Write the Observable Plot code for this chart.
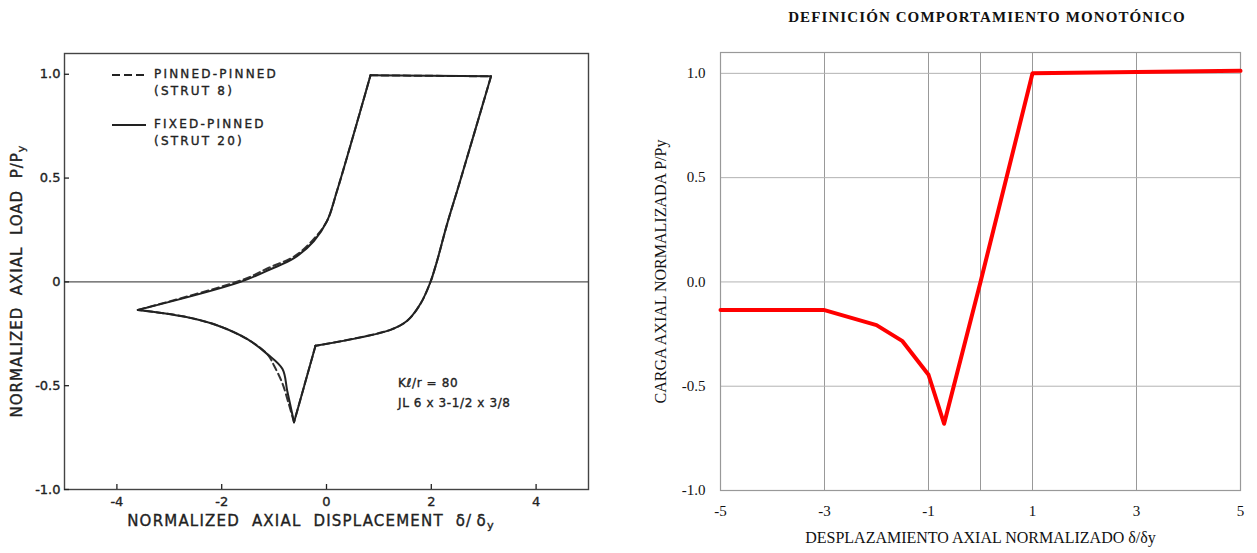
<!DOCTYPE html>
<html>
<head>
<meta charset="utf-8">
<script src="https://cdn.jsdelivr.net/npm/d3@7"></script>
<script src="https://cdn.jsdelivr.net/npm/@observablehq/plot@0.6"></script>
<style>
  body { margin: 0; background: #fff; }
  #page { position: relative; width: 1257px; height: 553px; overflow: hidden; background: #fff; }
  .abs { position: absolute; }
  .letter { font-family: "DejaVu Sans", sans-serif; color: #222; letter-spacing: 1.2px; white-space: nowrap; -webkit-text-stroke: 0.35px #222; }
  .serif { font-family: "Liberation Serif", serif; color: #111; white-space: nowrap; }
  sub { font-size: 75%; vertical-align: -0.25em; }
</style>
</head>
<body>
<div id="page">
  <div id="left" class="abs" style="left:0;top:0"></div>
  <div id="right" class="abs" style="left:620px;top:35px"></div>

  <!-- left panel lettering -->
  <div class="abs letter" style="left:18px;top:281px;font-size:15px;letter-spacing:1px;transform:translate(-50%,-50%) rotate(-90deg);">NORMALIZED&nbsp; AXIAL&nbsp; LOAD&nbsp; P/P<sub>y</sub></div>
  <div class="abs letter" style="left:311px;top:522px;font-size:15px;transform:translate(-50%,-50%);">NORMALIZED&nbsp; AXIAL&nbsp; DISPLACEMENT&nbsp; δ/&thinsp;δ<sub>y</sub></div>

  <div class="abs letter" style="left:112px;top:66px;font-size:12px;line-height:17px;letter-spacing:2.2px;">
    <svg width="34" height="8" style="vertical-align:middle;margin-right:8px"><line x1="0" y1="4" x2="34" y2="4" stroke="#222" stroke-width="2" stroke-dasharray="8,4"/></svg>PINNED-PINNED<br>
    <span style="margin-left:42px">(STRUT 8)</span>
  </div>
  <div class="abs letter" style="left:112px;top:116px;font-size:12px;line-height:17px;letter-spacing:2.2px;">
    <svg width="34" height="8" style="vertical-align:middle;margin-right:8px"><line x1="0" y1="4" x2="34" y2="4" stroke="#222" stroke-width="2"/></svg>FIXED-PINNED<br>
    <span style="margin-left:42px">(STRUT 20)</span>
  </div>
  <div class="abs letter" style="left:398px;top:373px;font-size:12px;line-height:20px;letter-spacing:0.6px;">
    Kℓ/r = 80<br>JL 6 x 3-1/2 x 3/8
  </div>

  <!-- right panel title -->
  <div class="abs serif" style="left:987px;top:9px;transform:translateX(-50%);font-size:15px;font-weight:bold;letter-spacing:1.1px;">DEFINICIÓN COMPORTAMIENTO MONOTÓNICO</div>
</div>
<script>
// ---------- Left panel: cyclic test (reference figure) ----------
// Fixed-pinned (strut 20), traced piece by piece around the loop
const fixedUpperX  = [-3.6, -1.64, -1.07, -0.62, -0.24, 0.01, 0.20, 0.84];
const fixedUpperY  = [-0.135, 0.0, 0.061, 0.114, 0.197, 0.293, 0.4375, 0.995];
const loopTopX     = [0.84, 3.14];
const loopTopY     = [0.995, 0.99];
const loopRightX   = [3.14, 2.55, 2.30, 2.11, 1.98, 1.79, 1.54, 1.22, -0.21];
const loopRightY   = [0.99, 0.486, 0.277, 0.101, -0.003, -0.107, -0.1875, -0.231, -0.308];
const loopDownX    = [-0.21, -0.62];
const loopDownY    = [-0.308, -0.676];
const fixedReturnX = [-0.62, -0.75, -0.84, -1.13, -1.51, -2.08, -2.72, -3.6];
const fixedReturnY = [-0.676, -0.524, -0.42, -0.348, -0.276, -0.21, -0.167, -0.135];
// Pinned-pinned (strut 8): differs only on the upper and return branches
const pinnedUpperX  = [-3.6, -1.6, -1.1, -0.6, -0.25, 0.01, 0.20, 0.84];
const pinnedUpperY  = [-0.135, 0.01, 0.068, 0.125, 0.205, 0.293, 0.4375, 0.995];
const pinnedReturnX = [-0.62, -0.72, -0.84, -1.0, -1.13, -1.51, -2.08, -2.72, -3.6];
const pinnedReturnY = [-0.676, -0.588, -0.49, -0.404, -0.348, -0.276, -0.21, -0.167, -0.135];

const leftXTicks = [-4, -2, 0, 2, 4];
const leftYTicks = [-1, -0.5, 0, 0.5, 1];

// ---------- Right panel: monotonic definition ----------
const monoX = [-5, -3, -2, -1.5, -1, -0.7, 0, 1, 5];
const monoY = [-0.135, -0.135, -0.207, -0.284, -0.445, -0.68, 0, 1.0, 1.012];
const rightXTicks = [-5, -3, -1, 1, 3, 5];
const rightXGrid = [-5, -3, -1, 0, 1, 3, 5];
const rightYTicks = [-1, -0.5, 0, 0.5, 1];
const rightXLabel = "DESPLAZAMIENTO AXIAL NORMALIZADO δ/δy";
const rightYLabel = "CARGA AXIAL NORMALIZADA P/Py";

function pieces(list) {
  const rows = [];
  list.forEach(([xs, ys], p) => xs.forEach((x, i) => rows.push({piece: p, x, y: ys[i]})));
  return rows;
}
const fixedData = pieces([[fixedUpperX, fixedUpperY], [loopTopX, loopTopY], [loopRightX, loopRightY], [loopDownX, loopDownY], [fixedReturnX, fixedReturnY]]);
const pinnedData = pieces([[pinnedUpperX, pinnedUpperY], [loopTopX, loopTopY], [loopRightX, loopRightY], [loopDownX, loopDownY], [pinnedReturnX, pinnedReturnY]]);
const monoData = monoX.map((x, i) => ({x, y: monoY[i]}));

const inkText = {textStroke: "#222", textStrokeWidth: 0.35, fill: "#222"};

const left = Plot.plot({
  width: 610, height: 553,
  marginLeft: 64, marginRight: 22, marginTop: 53, marginBottom: 64,
  x: {domain: [-5, 5]},
  y: {domain: [-1, 1.1]},
  style: {fontFamily: "DejaVu Sans, sans-serif", fontSize: "13px", color: "#222", background: "transparent"},
  marks: [
    Plot.ruleY([0], {stroke: "#555", strokeWidth: 1.2}),
    Plot.line(pinnedData, {x: "x", y: "y", z: "piece", curve: "catmull-rom", stroke: "#333", strokeWidth: 2, strokeDasharray: "7,4"}),
    Plot.line(fixedData, {x: "x", y: "y", z: "piece", curve: "catmull-rom", stroke: "#222", strokeWidth: 2, strokeLinejoin: "miter"}),
    Plot.frame({stroke: "#444", strokeWidth: 1.4}),
    Plot.axisX(leftXTicks, {tickSize: 5, dy: -5, fill: "none", label: null, strokeWidth: 1.3}),
    Plot.axisX(leftXTicks, {tickSize: 0, tickPadding: 7, label: null, fontSize: 13, ...inkText, tickFormat: d => String(d)}),
    Plot.axisY(leftYTicks, {tickSize: 5, dx: 5, fill: "none", label: null, strokeWidth: 1.3}),
    Plot.axisY(leftYTicks, {tickSize: 0, tickPadding: 4, label: null, fontSize: 13, ...inkText, tickFormat: d => d === 0 ? "0" : d.toFixed(1)})
  ]
});
document.getElementById("left").appendChild(left);

const right = Plot.plot({
  width: 637, height: 518,
  marginLeft: 100, marginRight: 17, marginTop: 17, marginBottom: 63,
  x: {domain: [-5, 5]},
  y: {domain: [-1, 1.1]},
  style: {fontFamily: "Liberation Serif, serif", fontSize: "15px", color: "#111", background: "transparent"},
  marks: [
    Plot.ruleX(rightXGrid, {stroke: "#999", strokeWidth: 1}),
    Plot.ruleY(rightYTicks, {stroke: "#b3b3b3", strokeWidth: 1}),
    Plot.frame({stroke: "#999", strokeWidth: 1.2}),
    Plot.line(monoData, {x: "x", y: "y", stroke: "#ff0000", strokeWidth: 4}),
    Plot.axisX(rightXTicks, {tickSize: 0, tickPadding: 15, label: null, fontSize: 15, tickFormat: d => String(d)}),
    Plot.axisY(rightYTicks, {tickSize: 0, tickPadding: 15, label: null, fontSize: 15, tickFormat: d => d.toFixed(1)}),
    Plot.text([rightXLabel], {text: d => d, frameAnchor: "bottom", dy: 52, fontSize: 16}),
    Plot.text([rightYLabel], {text: d => d, frameAnchor: "left", textAnchor: "middle", lineAnchor: "middle", rotate: -90, dx: -60, fontSize: 16})
  ]
});
document.getElementById("right").appendChild(right);
</script>
</body>
</html>
